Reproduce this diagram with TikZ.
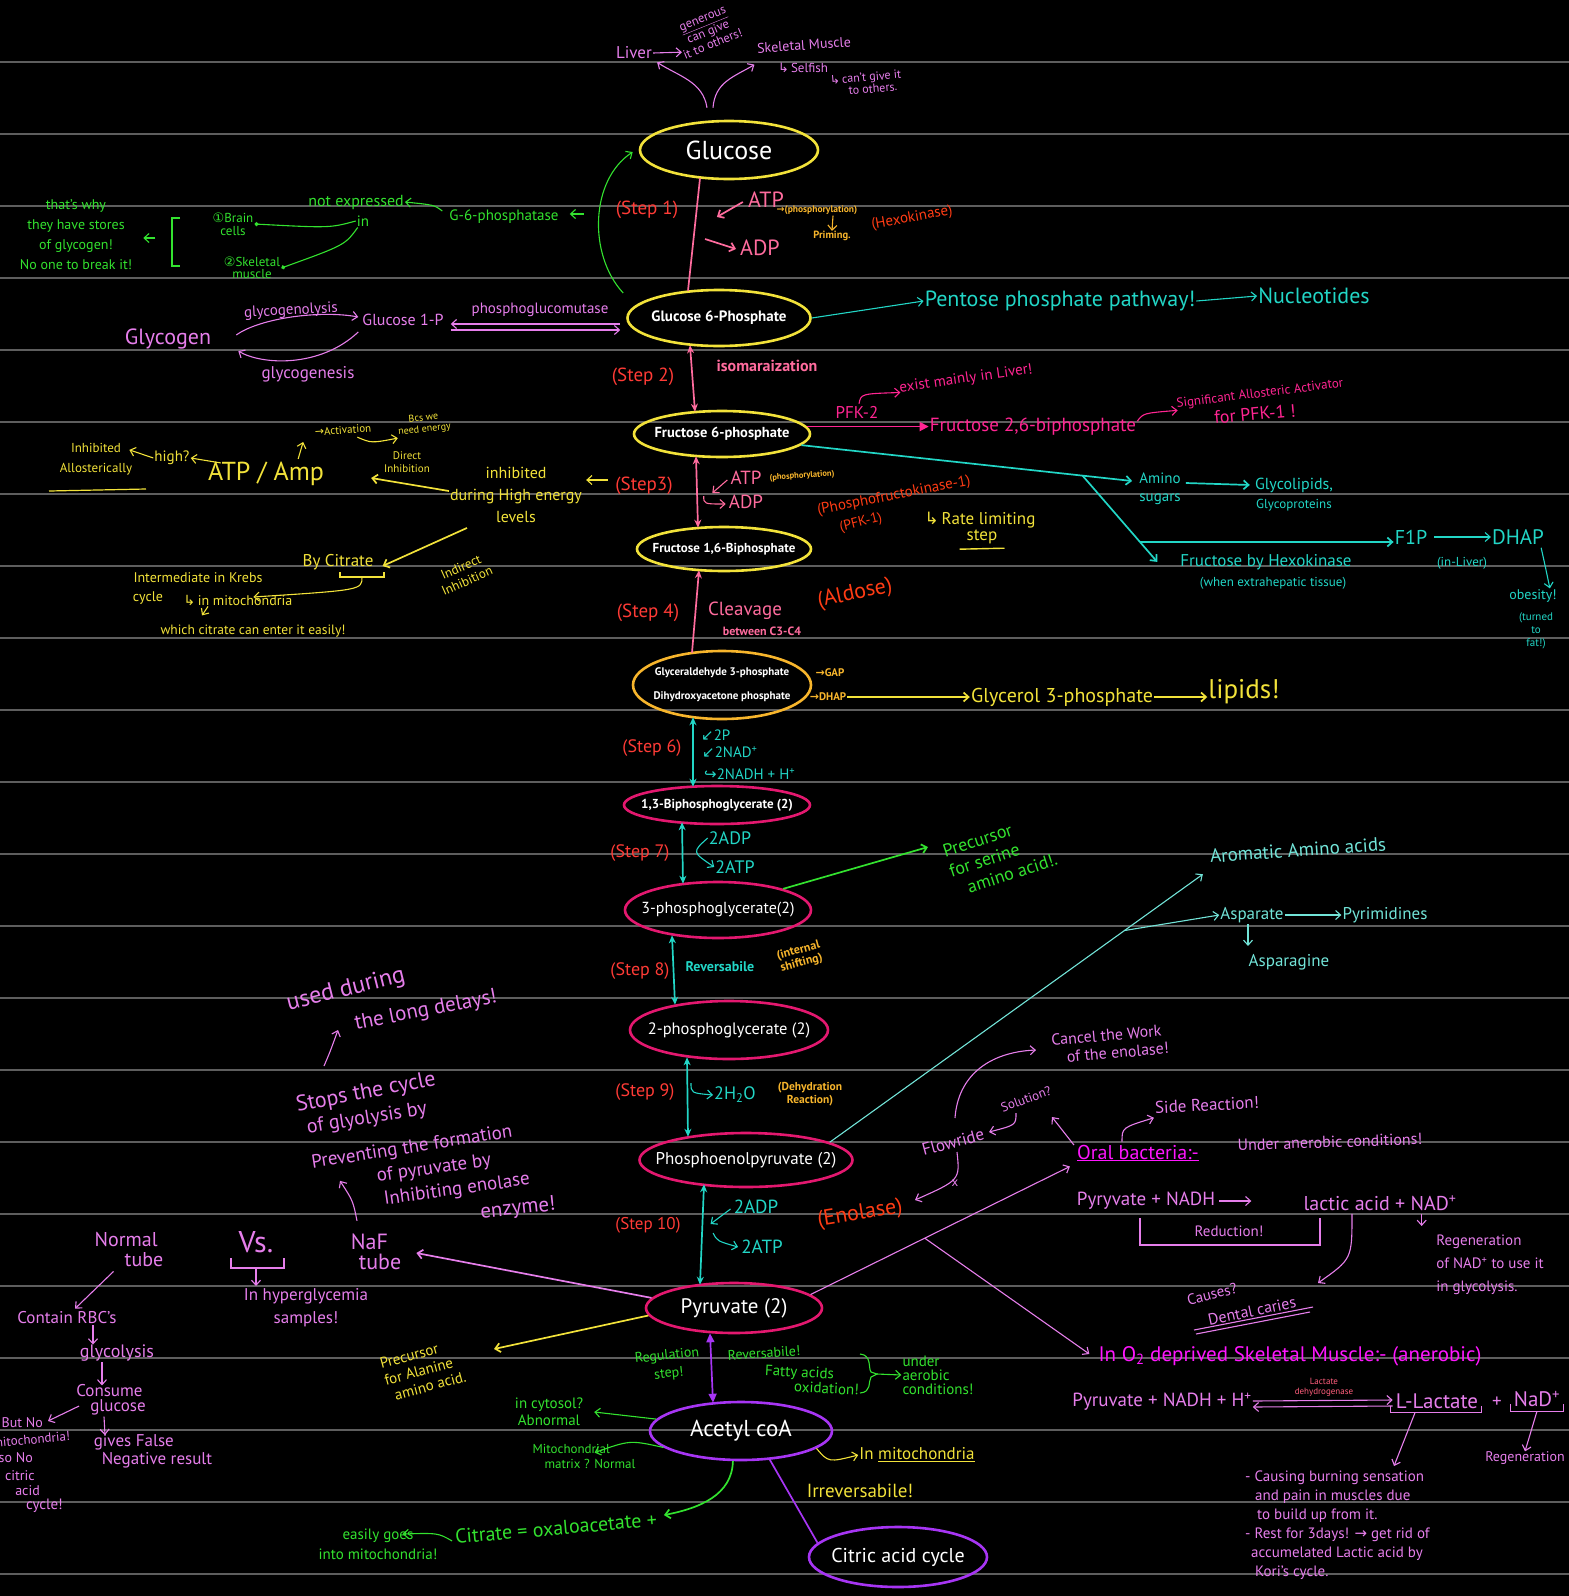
\documentclass[tikz,border=0pt]{standalone}
\usepackage{fontspec}
\setmainfont{PT Sans}
\newfontfamily\dvfont{DejaVu Sans}
\usetikzlibrary{shapes.geometric,arrows.meta,calc}
\newcommand\fsz[1]{\fontsize{#1}{\the\dimexpr#1pt*6/5\relax}\selectfont}
\newcommand\sy[1]{{\dvfont #1}}
\definecolor{rulegray}{HTML}{5E5E5E}
\definecolor{cYel}{HTML}{F2E23A}
\definecolor{cOrg}{HTML}{F7B52C}
\definecolor{cRed}{HTML}{FF3B36}
\definecolor{cRorg}{HTML}{FF3C14}
\definecolor{cPink}{HTML}{FF6C9E}
\definecolor{cMag}{HTML}{FF2592}
\definecolor{cCrim}{HTML}{E3186F}
\definecolor{cCyan}{HTML}{22D6C6}
\definecolor{cLcyan}{HTML}{72E4D8}
\definecolor{cGrn}{HTML}{33E22F}
\definecolor{cVio}{HTML}{E67EEB}
\definecolor{cBmag}{HTML}{FF16FF}
\definecolor{cPurp}{HTML}{A735F4}
\definecolor{cLdh}{HTML}{FF5E7C}
\begin{document}
\begin{tikzpicture}[x=1pt,y=-1pt,
  fs/.style={font=\fsz{#1}},
  fss/.style 2 args={font=\fontsize{#1}{#2}\selectfont},
  lab/.style={inner sep=1pt,align=center},
  wt/.style={text=white,inner sep=0pt,align=center},
  ell/.style 2 args={draw,ellipse,line width=2.6pt,inner sep=0pt,minimum width=#1pt,minimum height=#2pt},
  aln/.style={line width=1.7pt},
  bln/.style={line width=1.1pt},
  >={Straight Barb[length=5pt,width=9pt]},
  dbl/.style={arrows={Stealth[length=8pt,width=7pt]-Stealth[length=8pt,width=7pt]}},
  tipS/.style={arrows={-Stealth[length=8pt,width=7pt]}},
  dblT/.style={arrows={Triangle[length=9pt,width=8pt]-Triangle[length=9pt,width=8pt]}},
  dotT/.style={arrows={-Circle[length=4pt]}},
  triT/.style={arrows={-Triangle[length=9pt,width=9pt]}}
]
\fill[black] (0,0) rectangle (1569,1596);
\useasboundingbox (0,0) rectangle (1569,1596);
\foreach \k in {0,...,21}{\draw[rulegray,line width=2pt] (0,62+72*\k) -- (1569,62+72*\k);}

% ---------------- main chain ----------------
\node[ell={178}{58},draw=cYel,label={[wt,fs=26]center:Glucose}] (glu) at (729,150) {};
\node[ell={183}{56},draw=cYel,label={[wt,fs=15]center:{\bfseries Glucose 6-Phosphate}}] (g6p) at (719,318) {};
\node[ell={176}{46},draw=cYel,label={[wt,fs=14.5]center:{\bfseries Fructose 6-phosphate}}] (f6p) at (722,434) {};
\node[ell={174}{44},draw=cYel,label={[wt,fs=13]center:{\bfseries Fructose 1,6-Biphosphate}}] (f16) at (724,549) {};
\node[ell={178}{68},draw=cOrg,label={[wt,fss={11}{24}]center:{\bfseries Glyceraldehyde 3-phosphate\\\bfseries Dihydroxyacetone phosphate}}] (gap) at (722,685) {};
\node[ell={186}{38},draw=cCrim,label={[wt,fs=13]center:{\bfseries 1,3-Biphosphoglycerate (2)}}] (bpg) at (717,805) {};
\node[ell={186}{56},draw=cCrim,label={[wt,fs=16]center:{3-phosphoglycerate(2)}}] (pg3) at (718,910) {};
\node[ell={198}{58},draw=cCrim,label={[wt,fs=16.5]center:{2-phosphoglycerate (2)}}] (pg2) at (729,1030) {};
\node[ell={213}{54},draw=cCrim,label={[wt,fs=17]center:{Phosphoenolpyruvate (2)}}] (pep) at (746,1160) {};
\node[ell={176}{50},draw=cCrim,label={[wt,fs=21]center:{Pyruvate (2)}}] (pyr) at (734,1308) {};
\node[ell={182}{58},draw=cPurp,label={[wt,fs=23]center:{Acetyl coA}}] (acoa) at (741,1431) {};
\node[ell={178}{60},draw=cPurp,label={[wt,fs=20]center:{Citric acid cycle}}] (cac) at (898,1557) {};

\draw[cPink,aln] ($(glu.south)+(-29,-2)$) -- ($(g6p.north)+(-31,2)$);
\draw[cPink,aln,dbl] ($(g6p.south)+(-29,-2)$) -- ($(f6p.north)+(-27,2)$);
\draw[cPink,aln,dbl] ($(f6p.south)+(-26,-2)$) -- ($(f16.north)+(-26,2)$);
\draw[cPink,aln,tipS] ($(gap.north)+(-30,3)$) -- ($(f16.south)+(-25,-2)$);
\draw[cCyan,aln,dbl] ($(gap.south)+(-29,-3)$) -- ($(bpg.north)+(-24,2)$);
\draw[cCyan,aln,dbl] ($(bpg.south)+(-35,-3)$) -- ($(pg3.north)+(-35,3)$);
\draw[cCyan,aln,dbl] ($(pg3.south)+(-46,-4)$) -- ($(pg2.north)+(-54,5)$);
\draw[cCyan,aln,dbl] ($(pg2.south)+(-42,-3)$) -- ($(pep.north)+(-58,5)$);
\draw[cCyan,aln,dbl] ($(pep.south)+(-42,-4)$) -- ($(pyr.north)+(-34,3)$);
\draw[cPurp,aln,dblT] ($(pyr.south)+(-24,-1)$) -- ($(acoa.north)+(-28,2)$);
\draw[cPurp,aln] ($(acoa.south)+(28,-3)$) -- (cac.170);

% ---------------- top: liver / muscle ----------------
\node[lab,fs=17,cVio] (liver) at (634,53) {Liver};
\node[lab,fss={12.5}{13},cVio,rotate=22] (generous) at (708,32) {\underline{generous}\\can give\\it to others!};
\draw[cVio,bln,->] (liver.east) -- ($(generous.west)+(4,8)$);
\node[lab,fs=14,cVio,rotate=4] (skm) at (804,45) {Skeletal Muscle};
\node[lab,fs=13,cVio] (selfish) at (803,68) {\sy{↳}\,Selfish};
\node[lab,fss={12}{12},cVio,rotate=5,align=left] (cantgive) at (866,83) {\sy{↳}\,can't give it\\\hspace{18pt}to others.};
\draw[cVio,bln,->] ($(glu.north)+(-22,-12)$) .. controls +(-4,-26) and +(22,14) .. ($(liver.south east)+(4,2)$);
\draw[cVio,bln,->] ($(glu.north)+(-16,-12)$) .. controls +(2,-26) and +(-20,12) .. ($(skm.south west)+(-2,10)$);

% ---------------- step 1 ----------------
\node[lab,fs=19,cRed] (s1) at (647,210) {(Step 1)};
\node[lab,fs=22,cPink] (atp1) at (766,200) {ATP};
\node[lab,fs=22,cPink] (adp1) at (760,248) {ADP};
\draw[cPink,aln,->] ($(atp1.west)+(-4,2)$) -- ++(-26,15);
\draw[cPink,aln,->] ($(adp1.west)+(-34,-9)$) -- ($(adp1.west)+(-3,1)$);
\node[lab,fs=9.5,cOrg] (phos1) at (817,210) {\bfseries\sy{→}(phosphorylation)};
\node[lab,fs=10.5,cOrg] (prim) at (832,236) {\bfseries Priming.};
\draw[cOrg,bln,->] ($(phos1.south)+(16,0)$) -- ($(prim.north)+(0,1)$);
\node[lab,fs=15,cRorg,rotate=10] (hexo) at (912,218) {(Hexokinase)};

% ---------------- G-6-phosphatase (green) ----------------
\draw[cGrn,bln,->] ($(g6p.west)+(-3,-25)$) .. controls (588,255) and (590,180) .. ($(glu.west)+(-6,2)$);
\node[lab,fs=15,cGrn] (g6pase) at (504,217) {G-6-phosphatase};
\draw[cGrn,bln,->] ($(g6pase.east)+(24,-3)$) -- ($(g6pase.east)+(10,-3)$);
\node[lab,fs=16,cGrn] (notexp) at (356,202) {not expressed};
\draw[cGrn,bln,->] ($(g6pase.north west)+(-6,2)$) .. controls +(-8,-6) .. (notexp.east);
\node[lab,fs=15,cGrn] (inw) at (363,221) {in};
\node[lab,fss={13}{13},cGrn] (brain) at (233,224) {\sy{①}Brain\\cells};
\node[lab,fss={13}{12},cGrn] (skel1) at (252,268) {\sy{②}Skeletal\\muscle};
\draw[cGrn,bln,dotT] (inw.west) .. controls (330,228) .. (brain.east);
\draw[cGrn,bln,dotT] ($(inw.south west)+(2,0)$) .. controls (345,245) .. (skel1.east);
\draw[cGrn,bln] (180,218) -- (172,218) -- (172,266) -- (180,266);
\node[lab,fss={14}{20},cGrn] (whynote) at (76,235) {that's why\\they have stores\\of glycogen!\\No one to break it!};
\draw[cGrn,bln,->] ($(whynote.east)+(22,3)$) -- ($(whynote.east)+(10,3)$);

% ---------------- glycogen ----------------
\node[lab,fs=22,cVio] (glycogen) at (168,339) {Glycogen};
\node[lab,fs=15,cVio,rotate=3] (glyclys) at (291,311) {glycogenolysis};
\node[lab,fs=17,cVio] (glycnes) at (308,374) {glycogenesis};
\node[lab,fs=16,cVio] (g1p) at (403,320) {Glucose 1-P};
\node[lab,fs=15,cVio] (pgm) at (540,310) {phosphoglucomutase};
\draw[cVio,bln,->] ($(glycogen.east)+(24,-4)$) .. controls (260,318) and (320,310) .. ($(g1p.west)+(-3,-3)$);
\draw[cVio,bln,->] ($(g1p.west)+(-3,12)$) .. controls (320,368) and (262,365) .. ($(glycogen.east)+(26,12)$);
\draw[cVio,bln,->] ($(g6p.west)+(-6,6)$) -- ($(g1p.east)+(6,4)$);
\draw[cVio,bln,->] ($(g1p.east)+(6,10)$) -- ($(g6p.west)+(-6,12)$);

% ---------------- pentose ----------------
\node[lab,fs=22,cCyan] (ppp) at (1060,301) {Pentose phosphate pathway!};
\node[lab,fs=22,cCyan] (nuc) at (1314,296) {Nucleotides};
\draw[cCyan,bln,->] (g6p.east) -- (ppp.west);
\draw[cCyan,bln,->] (ppp.east) -- (nuc.west);

% ---------------- step 2 ----------------
\node[lab,fs=19,cRed] (s2) at (643,377) {(Step 2)};
\node[lab,fs=16,cPink] (isom) at (767,366) {\bfseries isomaraization};

% ---------------- F6P right side ----------------
\node[lab,fs=17,cMag] (pfk2) at (857,412) {PFK-2};
\node[lab,fs=19,cMag] (f26) at (1033,427) {Fructose 2,6-biphosphate};
\draw[cMag,aln,triT] (f6p.5) -- (f6p.5 -| f26.west);
\node[lab,fs=15,cMag,rotate=8] (exliv) at (966,379) {exist mainly in Liver!};
\draw[cMag,bln,->] ($(pfk2.north)+(2,-1)$) .. controls +(2,-10) .. ($(exliv.west)+(2,4)$);
\node[lab,fs=13,cMag,rotate=7] (sig1) at (1260,394) {Significant Allosteric Activator};
\node[lab,fs=18,cMag,rotate=5] (sig2) at (1255,414) {for PFK-1 !};
\draw[cMag,bln,->] ($(f26.north east)+(0,4)$) .. controls +(6,-8) .. ($(sig1.west)+(2,6)$);

\node[lab,fss={15}{18},cCyan] (amino) at (1160,489) {Amino\\sugars};
\coordinate (amT) at ($(amino.west)+(-6,-8)$);
\draw[cCyan,aln,->] (f6p.-8) -- (amT);
\coordinate (bp1) at ($(f6p.-8)!0.85!(amT)$);
\coordinate (bp2) at (1140,542);
\draw[cCyan,aln,->] (bp1) -- ($(bp1)!1.3!(bp2)$);
\node[lab,fs=20,cCyan] (f1p) at (1411,537) {F1P};
\draw[cCyan,aln,->] (bp2) -- (bp2 -| f1p.west);
\node[lab,fs=16,cCyan] (glp) at (1294,485) {Glycolipids,};
\node[lab,fs=13,cCyan] (gpr) at (1294,505) {Glycoproteins};
\draw[cCyan,aln,->] ($(amino.east)+(4,-6)$) -- ($(glp.west)+(-4,0)$);
\node[lab,fs=21,cCyan] (dhapR) at (1518,537) {DHAP};
\draw[cCyan,bln,->] ($(f1p.east)+(6,0)$) -- (dhapR.west);
\node[lab,fs=13,cCyan] (inliv) at (1462,563) {(in-Liver)};
\node[lab,fs=14,cCyan] (obes) at (1533,596) {obesity!};
\node[lab,fss={11}{13},cCyan] (turned) at (1536,631) {(turned\\to\\fat!)};
\draw[cCyan,bln,->] ($(dhapR.south east)+(-4,2)$) .. controls +(4,18) .. ($(obes.north east)+(-8,0)$);
\node[lab,fs=17,cCyan] (fbh) at (1266,562) {Fructose by Hexokinase};
\node[lab,fs=13,cCyan] (fbh2) at (1273,583) {(when extrahepatic tissue)};

% ---------------- step 3 ----------------
\node[lab,fs=19,cRed] (s3) at (644,486) {(Step3)};
\node[lab,fs=19,cPink] (atp3) at (746,478) {ATP};
\node[lab,fs=19,cPink] (adp3) at (746,502) {ADP};
\node[lab,fs=8.5,cOrg,rotate=4] (phos3) at (802,476) {\bfseries(phosphorylation)};
\draw[cPink,bln,->] ($(atp3.west)+(-2,2)$) -- ++(-15,13);
\draw[cPink,bln,->] ($(adp3.west)+(-24,-6)$) .. controls +(0,8) .. ($(adp3.west)+(-2,2)$);
\node[lab,fs=15,cRorg,rotate=11] (pfk1) at (894,496) {(Phosphofructokinase-1)};
\node[lab,fs=14,cRorg,rotate=14] (pfk1b) at (861,523) {(PFK-1)};
\node[lab,fs=17,cYel] (rls1) at (980,520) {\sy{↳}\,Rate limiting};
\node[lab,fs=17,cYel] (rls2) at (982,537) {step};
\draw[cYel,line width=1.4pt] ($(rls2.south west)+(-6,4)$) -- ($(rls2.south east)+(6,3)$);

% left yellow notes
\node[lab,fss={16}{22},cYel] (inh) at (516,495) {inhibited\\during High energy\\levels};
\draw[cYel,bln,->] ($(s3.west)+(-6,-6)$) -- ++(-22,0);
\node[lab,fss={11}{13},cYel] (dirinh) at (407,462) {Direct\\Inhibition};
\node[lab,fs=26,cYel] (atpamp) at (266,474) {ATP / Amp};
\draw[cYel,aln,->] ($(inh.west)+(0,-4)$) -- ($(atpamp.east)+(46,4)$);
\node[lab,fs=15,cYel] (high) at (172,458) {high?};
\draw[cYel,bln,->] ($(atpamp.north west)+(14,2)$) -- (high.east);
\node[lab,fss={13}{20},cYel] (inhal) at (96,459) {Inhibited\\Allosterically};
\draw[cYel,bln,->] (high.west) -- ($(inhal.north east)+(-4,8)$);
\draw[cYel,line width=1.2pt] (49,491) -- (146,489);
\node[lab,fs=11,cYel,rotate=4] (activ) at (343,430) {\sy{→}Activation};
\node[lab,fss={10}{11},cYel,rotate=6] (bcs) at (424,424) {Bcs we\\need energy};
\draw[cYel,bln,->] ($(atpamp.north east)+(-27,-2)$) -- ++(5,-17);
\draw[cYel,bln,->] ($(activ.south)+(14,2)$) .. controls +(14,6) .. (bcs.south west);
\node[lab,fs=17,cYel] (citr1) at (338,562) {By Citrate};
\draw[cYel,aln,->] ($(inh.south west)+(18,4)$) -- ($(citr1.east)+(8,4)$);
\node[lab,fss={13}{15},cYel,rotate=24] (indinh) at (464,574) {Indirect\\Inhibition};
\draw[cYel,bln] (340,572) -- (340,577) -- (384,577) -- (384,572);
\draw[cYel,bln,->] (362,577) .. controls (362,590) .. ($(citr1.south west)+(-48,26)$);
\node[lab,fs=14,cYel] (krebs1) at (198,578) {Intermediate in Krebs};
\node[lab,fs=14,cYel] (krebs2) at (148,598) {cycle};
\node[lab,fs=14,cYel] (inmito) at (238,600) {\sy{↳}\,in mitochondria};
\node[lab,fs=13.5,cYel] (enter) at (253,631) {which citrate can enter it easily!};
\draw[cYel,bln,->] ($(inmito.south)+(-30,0)$) -- ++(-6,9);

% ---------------- step 4 ----------------
\node[lab,fs=19,cRed] (s4) at (648,613) {(Step 4)};
\node[lab,fs=19,cPink] (cleav) at (745,611) {Cleavage};
\node[lab,fs=12,cPink] (betw) at (762,631) {\bfseries between C3-C4};
\node[lab,fs=22,cRorg,rotate=12] (aldose) at (855,594) {(Aldose)};

% ---------------- GAP/DHAP ----------------
\node[lab,fs=11,cOrg] (gapl) at (830,673) {\bfseries\sy{→}GAP};
\node[lab,fs=11,cOrg] (dhapl) at (828,697) {\bfseries\sy{→}DHAP};
\node[lab,fs=20,cYel] (g3p) at (1062,697) {Glycerol 3-phosphate};
\node[lab,fs=27,cYel] (lipids) at (1244,692) {lipids!};
\draw[cYel,aln,->] (dhapl.east) -- (dhapl.east -| g3p.west);
\draw[cYel,aln,->] (g3p.east) -- (g3p.east -| lipids.west);

% ---------------- step 6 ----------------
\node[lab,fs=18,cRed] (s6) at (652,748) {(Step 6)};
\node[lab,fs=15,cCyan,anchor=west] (p2) at (700,735) {\sy{↙}2P};
\node[lab,fs=15,cCyan,anchor=west] (nad6) at (701,752) {\sy{↙}2NAD\textsuperscript{+}};
\node[lab,fs=15,cCyan,anchor=west] (nadh6) at (703,774) {\sy{↪}2NADH + H\textsuperscript{+}};

% ---------------- step 7 ----------------
\node[lab,fs=18,cRed] (s7) at (640,853) {(Step 7)};
\node[lab,fs=18,cCyan] (adp7) at (730,838) {2ADP};
\node[lab,fs=18,cCyan] (atp7) at (735,867) {2ATP};
\draw[cCyan,bln,->] (adp7.west) .. controls (692,852) .. (atp7.west);
\node[lab,fss={18}{21},cGrn,rotate=18,align=left] (serine) at (1000,855) {Precursor\\for serine\\\hspace{12pt}amino acid!.};
\draw[cGrn,aln,->] (pg3.18) -- ($(serine.center)+(-72,-8)$);

% ---------------- step 8 ----------------
\node[lab,fs=18,cRed] (s8) at (640,971) {(Step 8)};
\node[lab,fs=14,cCyan] (rev8) at (720,967) {\bfseries Reversabile};
\node[lab,fss={12}{13},cOrg,rotate=15] (intsh) at (800,957) {\bfseries(internal\\\bfseries shifting)};

% aromatic / asparate
\node[lab,fs=19,cLcyan,rotate=4] (aro) at (1298,850) {Aromatic Amino acids};
\coordinate (aroT) at ($(aro.west)+(-6,18)$);
\draw[cLcyan,bln,->] (pep.12) -- (aroT);
\coordinate (bp3) at ($(pep.12)!0.79!(aroT)$);
\node[lab,fs=17,cLcyan] (asp) at (1252,915) {Asparate};
\node[lab,fs=17,cLcyan] (pyrim) at (1385,915) {Pyrimidines};
\node[lab,fs=17,cLcyan] (aspn) at (1289,962) {Asparagine};
\draw[cLcyan,bln,->] (bp3) -- (asp.west);
\draw[cLcyan,bln,->] (asp.east) -- (pyrim.west);
\draw[cLcyan,bln,->] ($(asp.south)+(-4,0)$) -- ++(0,22);

% ---------------- step 9 ----------------
\node[lab,fs=18,cRed] (s9) at (645,1092) {(Step 9)};
\node[lab,fs=18,cCyan] (h2o) at (735,1095) {2H\textsubscript{2}O};
\draw[cCyan,bln,->] ($(h2o.west)+(-22,-12)$) .. controls +(0,10) .. (h2o.west);
\node[lab,fss={11.5}{13},cOrg] (dehyd) at (810,1094) {\bfseries(Dehydration\\\bfseries Reaction)};

% ---------------- step 10 ----------------
\node[lab,fs=17,cRed] (s10) at (648,1225) {(Step 10)};
\node[lab,fs=19,cCyan] (adp10) at (756,1207) {2ADP};
\node[lab,fs=19,cCyan] (atp10) at (762,1247) {2ATP};
\draw[cCyan,bln,->] ($(adp10.west)+(-2,2)$) -- ++(-20,15);
\draw[cCyan,bln,->] ($(atp10.west)+(-27,-14)$) .. controls +(4,8) .. ($(atp10.west)+(-2,0)$);
\node[lab,fs=22,cRorg,rotate=9] (enol) at (860,1214) {(Enolase)};

% ---------------- left violet notes ----------------
\node[lab,fs=24,cVio,rotate=14] (used1) at (346,990) {used during};
\node[lab,fs=21,cVio,rotate=11] (used2) at (426,1011) {the long delays!};
\node[lab,fs=22,cVio,rotate=11] (st1) at (366,1093) {Stops the cycle};
\node[lab,fs=20,cVio,rotate=9] (st2) at (367,1119) {of glyolysis by};
\node[lab,fs=19,cVio,rotate=9] (st3) at (412,1148) {Preventing the formation};
\node[lab,fs=19,cVio,rotate=8] (st4) at (434,1169) {of pyruvate by};
\node[lab,fs=19,cVio,rotate=8] (st5) at (457,1190) {Inhibiting enolase};
\node[lab,fs=21,cVio,rotate=6] (st6) at (518,1209) {enzyme!};
\draw[cVio,bln,->] ($(st1.center)+(-42,-27)$) .. controls +(6,-14) .. ($(used1.center)+(-8,40)$);
\node[lab,fss={22}{20},cVio,align=left] (naf) at (376,1252) {NaF\\\hspace{8pt}tube};
\draw[cVio,bln,->] ($(naf.north)+(-19,-12)$) .. controls +(-4,-20) .. ($(naf.north)+(-36,-52)$);
\draw[cVio,aln,->] (pyr.173) -- ($(naf.east)+(14,1)$);
\node[lab,fs=30,cVio] (vs) at (256,1242) {Vs.};
\draw[cVio,bln] (231,1258) -- (231,1268) -- (284,1268) -- (284,1258);
\draw[cVio,bln,->] (256,1268) -- (256,1286);
\node[lab,fss={17}{23},cVio] (hyper) at (306,1308) {In hyperglycemia\\samples!};
\node[lab,fss={20}{20},cVio,align=left] (normal) at (129,1249) {Normal\\\hspace{30pt}tube};
\node[lab,fs=17,cVio] (rbc) at (67,1318) {Contain RBC's};
\draw[cVio,bln,->] ($(normal.south west)+(20,4)$) -- ($(rbc.north)+(8,-2)$);
\node[lab,fs=18,cVio] (glyc) at (117,1353) {glycolysis};
\node[lab,fss={17}{15},cVio,align=left] (cons) at (111,1400) {Consume\\\hspace{14pt}glucose};
\node[lab,fss={17}{18},cVio,align=left] (gives) at (153,1451) {gives False\\\hspace{8pt}Negative result};
\draw[cVio,bln,->] ($(rbc.south)+(26,0)$) -- ($(glyc.north)+(-24,1)$);
\draw[cVio,bln,->] ($(glyc.south)+(-15,0)$) -- ($(cons.north)+(-9,2)$);
\draw[cVio,bln,->] ($(cons.south)+(-7,0)$) -- ($(gives.north)+(-48,2)$);
\node[lab,fs=14,cVio,anchor=east] (bn1) at (44,1423) {But No};
\node[lab,fs=13,cVio,anchor=east,rotate=5] (bn2) at (71,1436) {mitochondria!};
\node[lab,fs=14,cVio,anchor=east] (bn3) at (34,1458) {so No};
\node[lab,fs=14,cVio,anchor=east] (bn4) at (36,1476) {citric};
\node[lab,fs=14,cVio,anchor=east] (bn5) at (41,1491) {acid};
\node[lab,fs=15,cVio,anchor=east] (bn6) at (64,1506) {cycle!};
\draw[cVio,bln,->] ($(cons.west)+(4,6)$) -- ($(bn1.east)+(4,-2)$);

% alanine
\node[lab,fss={15}{17},cYel,rotate=15,align=left] (ala) at (423,1370) {Precursor\\for Alanine\\\hspace{6pt}amino acid.};
\draw[cYel,aln,->] (pyr.185) -- ($(ala.center)+(71,-21)$);

% ---------------- acetyl coA region ----------------
\node[lab,fss={14}{18},cGrn,rotate=6] (reg) at (668,1365) {Regulation\\step!};
\node[lab,fs=14,cGrn,rotate=4] (rev) at (764,1353) {Reversabile!};
\node[lab,fss={15}{15},cGrn,rotate=-3,align=left] (fatty) at (812,1380) {Fatty acids\\\hspace{30pt}oxidation!};
\draw[cGrn,bln] (860,1354) .. controls (872,1355) and (868,1368) .. (871,1372) -- (877,1374) -- (871,1377) .. controls (868,1382) and (872,1392) .. (860,1393);
\node[lab,fss={15}{14},cGrn,align=left] (aerob) at (938,1375) {under\\aerobic\\conditions!};
\draw[cGrn,bln,->] (877,1374) -- ($(aerob.west)+(0,0)$);
\node[lab,fss={15}{17},cGrn] (cyto) at (549,1412) {in cytosol?\\Abnormal};
\draw[cGrn,bln,->] (acoa.172) -- ($(cyto.east)+(10,0)$);
\node[lab,fss={13}{15},cGrn,align=left] (mito) at (584,1456) {Mitochondrial\\\hspace{12pt}matrix ? Normal};
\draw[cGrn,bln,->] (acoa.192) .. controls (630,1440) .. ($(mito.north east)+(-42,10)$);
\node[lab,fs=20,cGrn,rotate=5] (citr) at (556,1528) {Citrate = oxaloacetate +};
\draw[cGrn,aln,->] (acoa.255) .. controls (732,1495) and (700,1508) .. ($(citr.east)+(6,-4)$);
\node[lab,fss={15}{20},cGrn] (easy) at (378,1544) {easily goes\\into mitochondria!};
\draw[cGrn,bln,->] ($(citr.west)+(-2,4)$) .. controls +(-14,-8) .. ($(easy.east)+(-36,-10)$);
\node[lab,fs=17,cYel] (inmit) at (917,1455) {In \underline{mitochondria}};
\draw[cYel,bln,->] (acoa.-13) .. controls +(12,14) .. (inmit.west);
\node[lab,fs=19,cYel] (irr) at (860,1491) {Irreversabile!};

% ---------------- oral bacteria ----------------
\node[lab,fss={16}{18},cVio,rotate=5,align=left] (cancel) at (1110,1044) {Cancel the Work\\\hspace{14pt}of the enolase!};
\node[lab,fs=17,cVio,rotate=15] (flow) at (953,1142) {Flowride};
\node[lab,fs=13,cVio,rotate=20] (sol) at (1026,1099) {Solution?};
\draw[cVio,bln,->] ($(flow.center)+(2,-24)$) .. controls (958,1075) and (990,1052) .. ($(cancel.center)+(-74,6)$);
\draw[cVio,bln,->] ($(sol.center)+(-10,14)$) .. controls +(0,12) .. ($(flow.center)+(36,-10)$);
\draw[cVio,bln,->] ($(flow.center)+(4,10)$) .. controls (960,1180) .. ($(enol.center)+(55,-14)$);
\node[lab,fs=13,cVio] (xmark) at (955,1183) {x};
\node[lab,fs=20,cBmag] (oral) at (1138,1153) {\underline{Oral bacteria:-}};
\draw[cVio,bln,->] ($(oral.west)+(-2,-8)$) -- ++(-22,-28);
\node[lab,fs=17,cVio,rotate=3] (side) at (1207,1105) {Side Reaction!};
\draw[cVio,bln,->] ($(oral.north)+(-16,-2)$) .. controls +(0,-14) .. ($(side.west)+(0,10)$);
\node[lab,fs=16,cVio,rotate=2] (under) at (1330,1142) {Under anerobic conditions!};
\coordinate (oralT) at ($(oral.south west)+(-6,4)$);
\draw[cVio,bln,->] (pyr.10) -- (oralT);
\coordinate (bp4) at ($(pyr.10)!0.44!(oralT)$);
\node[lab,fs=19,cVio] (pyrl) at (1146,1201) {Pyryvate + NADH};
\draw[cVio,bln,->] ($(pyrl.east)+(3,0)$) -- ++(32,0);
\node[lab,fs=20,cVio] (lactic) at (1380,1203) {lactic acid + NAD\textsuperscript{+}};
\draw[cVio,bln] (1140,1218) -- (1140,1245) -- (1320,1245) -- (1320,1218);
\node[lab,fs=15,cVio] (reduc) at (1229,1231) {Reduction!};
\node[lab,fs=15,cVio,rotate=14] (caus) at (1212,1294) {Causes?};
\node[lab,fs=16,cVio,rotate=12] (dent) at (1252,1311) {Dental caries};
\draw[cVio,bln] (1194,1330) -- (1313,1307);
\draw[cVio,bln] (1196,1334) -- (1310,1312);
\draw[cVio,bln,->] ($(lactic.south)+(-28,2)$) .. controls +(0,45) .. ($(dent.center)+(66,-28)$);
\node[lab,fss={15}{23},cVio,align=left] (regen) at (1490,1265) {Regeneration\\of NAD\textsuperscript{+} to use it\\in glycolysis.};
\draw[cVio,bln,->] ($(lactic.south east)+(-36,2)$) -- ++(0,12);

% ---------------- skeletal muscle anaerobic ----------------
\node[lab,fs=21,cBmag] (skel) at (1290,1356) {In O\textsubscript{2} deprived Skeletal Muscle:- (anerobic)};
\draw[cVio,bln,->] (bp4) -- ($(skel.west)+(-8,-2)$);
\node[lab,fs=19,cVio] (pyr2) at (1162,1402) {Pyruvate + NADH + H\textsuperscript{+}};
\node[lab,fss={9}{10},cLdh] (ldh) at (1324,1387) {Lactate\\dehydrogenase};
\node[lab,fs=21,cVio] (llac) at (1437,1401) {L-Lactate};
\node[lab,fs=19,cVio] (plus) at (1497,1402) {+};
\node[lab,fs=21,cVio] (nadp) at (1537,1399) {NaD\textsuperscript{+}};
\draw[cVio,bln,->] ($(pyr2.east)+(0,-1)$) -- ($(llac.west)+(-2,-1)$);
\draw[cVio,bln,->] ($(llac.west)+(-2,5)$) -- ($(pyr2.east)+(0,5)$);
\draw[cVio,bln] ($(llac.south west)+(-4,-4)$) -- ++(0,7) -- ($(llac.south east)+(2,3)$) -- ++(0,-7);
\draw[cVio,bln] ($(nadp.south west)+(-2,-4)$) -- ++(0,7) -- ($(nadp.south east)+(2,3)$) -- ++(0,-7);
\node[lab,fss={15}{19},cVio,align=left,anchor=north west] (burn) at (1244,1470) {- Causing burning sensation\\\hspace{10pt}and pain in muscles due\\\hspace{12pt}to build up from it.\\- Rest for 3days! \sy{→} get rid of\\\hspace{6pt}accumelated Lactic acid by\\\hspace{10pt}Kori's cycle.};
\draw[cVio,bln,->] ($(llac.south)+(-22,3)$) -- ($(burn.north west)+(150,-4)$);
\node[lab,fs=14,cVio] (regen2) at (1525,1458) {Regeneration};
\draw[cVio,bln,->] ($(nadp.south)+(0,3)$) -- ($(regen2.north)+(0,1)$);
\end{tikzpicture}
\end{document}
